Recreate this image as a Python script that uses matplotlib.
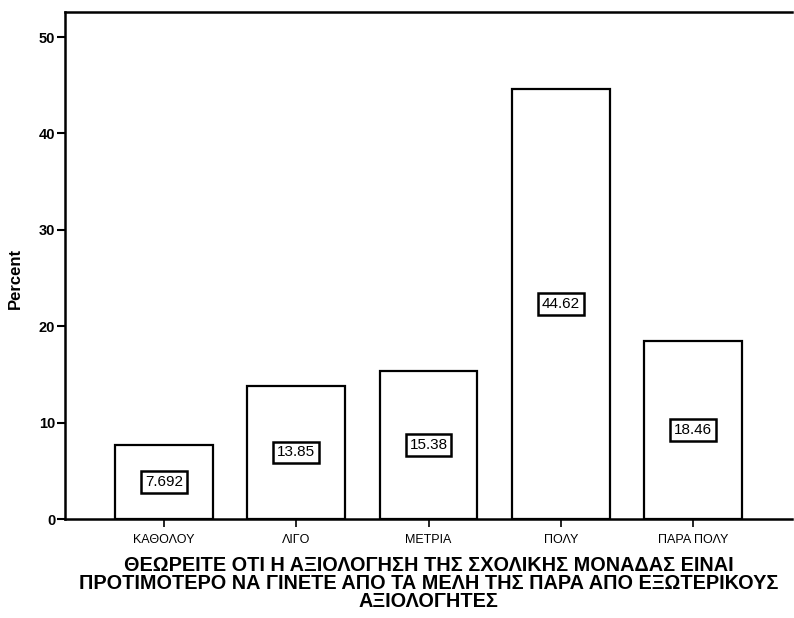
import matplotlib
matplotlib.use("Agg")
import matplotlib.pyplot as plt

plt.rcParams['font.family'] = ['Liberation Sans', 'DejaVu Sans']

categories = ["ΚΑΘΟΛΟΥ", "ΛΙΓΟ", "ΜΕΤΡΙΑ", "ΠΟΛΥ", "ΠΑΡΑ ΠΟΛΥ"]
percent = [7.692, 13.85, 15.38, 44.62, 18.46]
value_labels = ["7.692", "13.85", "15.38", "44.62", "18.46"]
y_ticks = [0, 10, 20, 30, 40, 50]
x_title = ("ΘΕΩΡΕΙΤΕ ΟΤΙ Η ΑΞΙΟΛΟΓΗΣΗ ΤΗΣ ΣΧΟΛΙΚΗΣ ΜΟΝΑΔΑΣ ΕΙΝΑΙ\n"
           "ΠΡΟΤΙΜΟΤΕΡΟ ΝΑ ΓΙΝΕΤΕ ΑΠΟ ΤΑ ΜΕΛΗ ΤΗΣ ΠΑΡΑ ΑΠΟ ΕΞΩΤΕΡΙΚΟΥΣ\n"
           "ΑΞΙΟΛΟΓΗΤΕΣ")

fig = plt.figure(figsize=(7.94, 6.18), dpi=100)
ax = fig.add_axes([0.0819, 0.160, 0.9156, 0.8206])

x = list(range(len(categories)))
ax.bar(x, percent, width=0.74, color="white", edgecolor="black", linewidth=1.6, zorder=2)

for xi, v, lab in zip(x, percent, value_labels):
    ax.text(xi, v / 2, lab, ha="center", va="center", fontsize=11, zorder=3,
            bbox=dict(boxstyle="square,pad=0.25", facecolor="white",
                      edgecolor="black", linewidth=1.8))

ax.set_xlim(-0.75, 4.75)
ax.set_ylim(0, 52.6)
ax.set_yticks(y_ticks)
ax.set_yticklabels([str(t) for t in y_ticks], fontsize=10.5, fontweight="bold")
ax.set_xticks(x)
ax.set_xticklabels(categories, fontsize=9)
ax.tick_params(axis="y", direction="out", length=6, width=1.5, pad=1)
ax.tick_params(axis="x", direction="out", length=6, width=1.2, pad=5)

for side in ["left", "top", "bottom"]:
    ax.spines[side].set_linewidth(1.8)
ax.spines["right"].set_visible(False)

ax.set_ylabel("Percent", fontsize=12, fontweight="bold")
ax.yaxis.set_label_coords(-0.058, 0.475)
ax.set_xlabel(x_title, fontsize=14.3, fontweight="bold", linespacing=0.92, labelpad=7)

fig.savefig("out.png", dpi=100, facecolor="white")
